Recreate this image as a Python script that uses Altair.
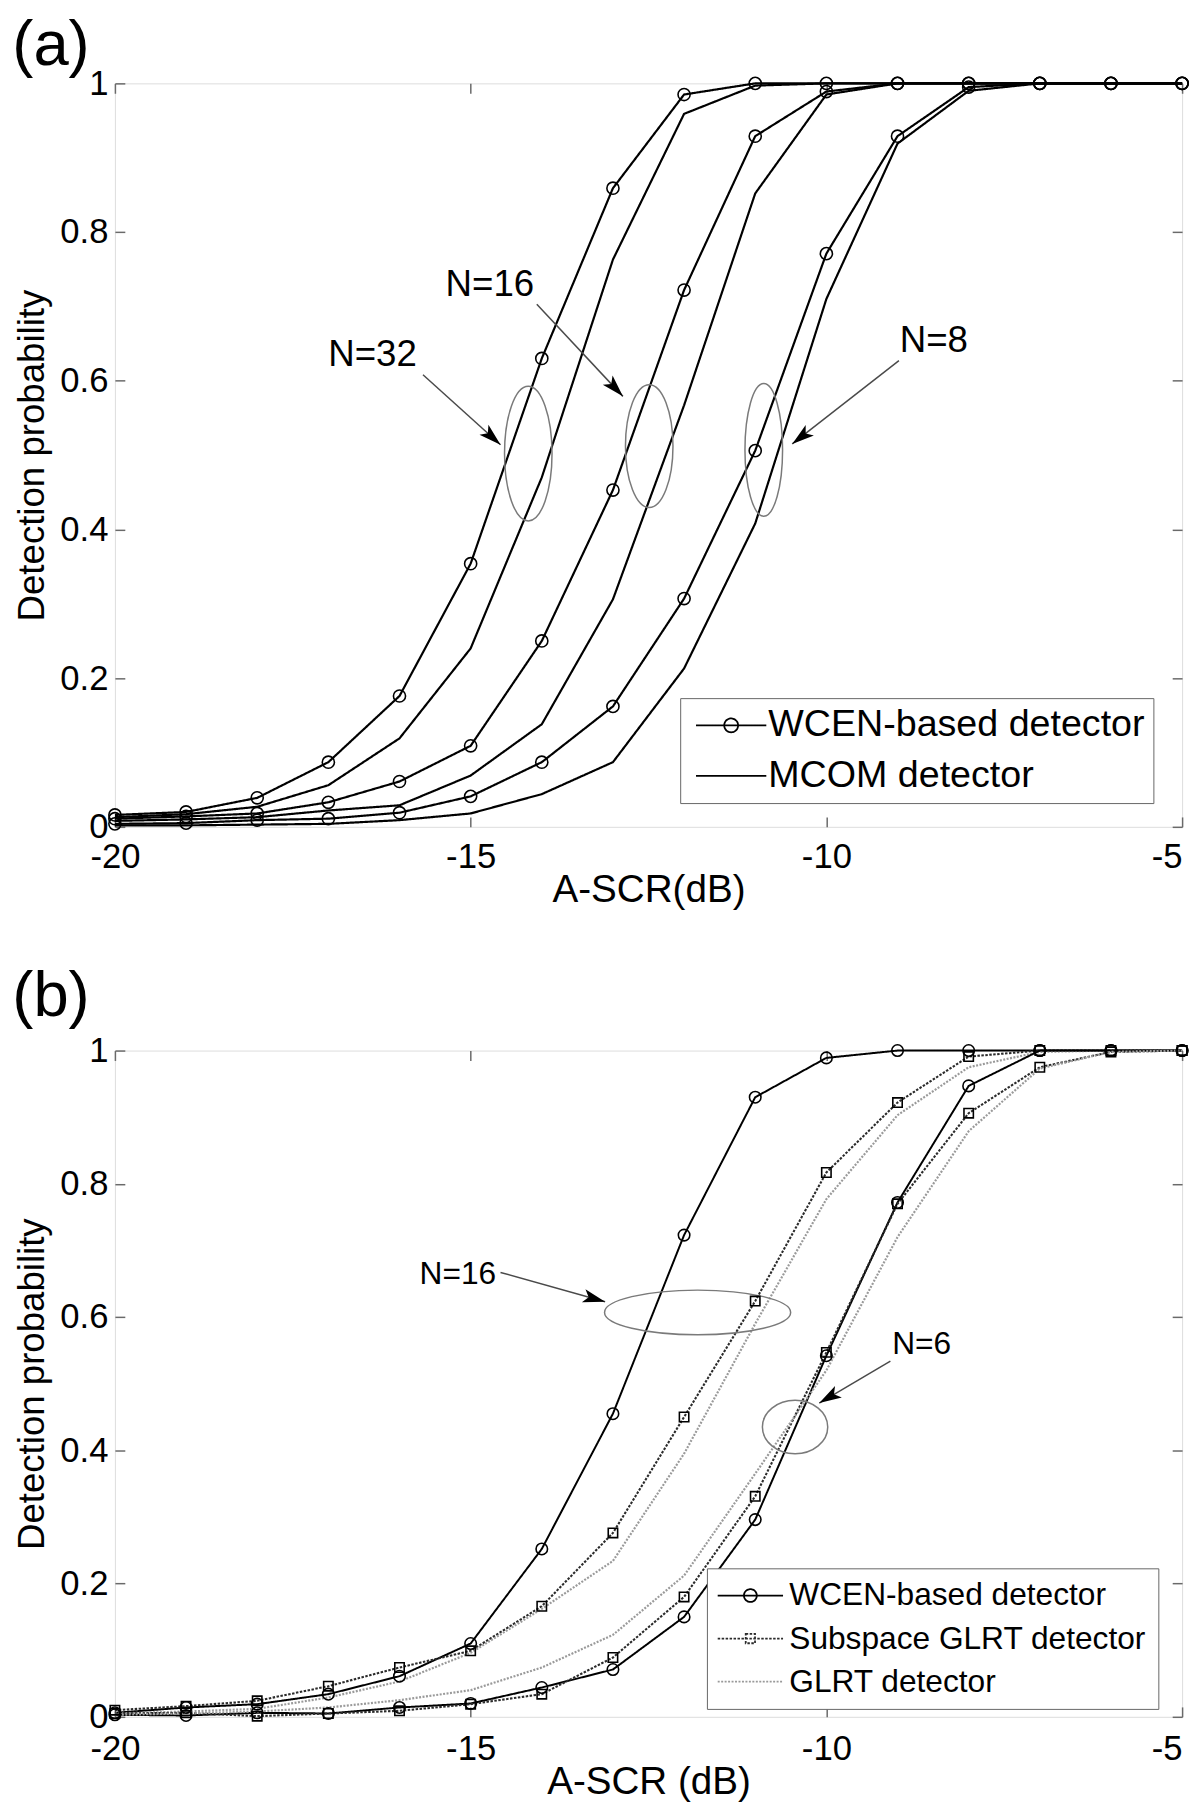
import math
import altair as alt
import pandas as pd

# ---------------- data ----------------
SCR = [-20, -19, -18, -17, -16, -15, -14, -13, -12, -11, -10, -9, -8, -7, -6, -5]

# panel (a)
A_WCEN_N32 = [0.016, 0.020, 0.039, 0.087, 0.176, 0.354, 0.630, 0.859, 0.985, 1.0, 1.0, 1.0, 1.0, 1.0, 1.0, 1.0]
A_MCOM_N32 = [0.013, 0.017, 0.027, 0.056, 0.119, 0.240, 0.470, 0.763, 0.959, 0.997, 1.0, 1.0, 1.0, 1.0, 1.0, 1.0]
A_WCEN_N16 = [0.011, 0.014, 0.018, 0.033, 0.061, 0.109, 0.250, 0.453, 0.722, 0.929, 0.989, 1.0, 1.0, 1.0, 1.0, 1.0]
A_MCOM_N16 = [0.008, 0.010, 0.013, 0.022, 0.029, 0.069, 0.138, 0.306, 0.567, 0.852, 0.985, 1.0, 1.0, 1.0, 1.0, 1.0]
A_WCEN_N8 = [0.004, 0.005, 0.009, 0.011, 0.019, 0.041, 0.087, 0.162, 0.307, 0.506, 0.771, 0.929, 0.995, 1.0, 1.0, 1.0]
A_MCOM_N8 = [0.002, 0.002, 0.003, 0.004, 0.009, 0.018, 0.044, 0.087, 0.213, 0.408, 0.710, 0.919, 0.990, 1.0, 1.0, 1.0]

# panel (b)
B_WCEN_N16 = [0.006, 0.014, 0.019, 0.034, 0.061, 0.110, 0.252, 0.455, 0.723, 0.930, 0.989, 1.0, 1.0, 1.0, 1.0, 1.0]
B_SUB_N16 = [0.010, 0.016, 0.024, 0.046, 0.074, 0.099, 0.166, 0.276, 0.450, 0.624, 0.817, 0.922, 0.991, 1.0, 1.0, 1.0]
B_GLRT_N16 = [0.005, 0.008, 0.012, 0.029, 0.053, 0.096, 0.162, 0.234, 0.395, 0.590, 0.777, 0.903, 0.975, 0.998, 1.0, 1.0]
B_WCEN_N6 = [0.003, 0.002, 0.006, 0.005, 0.014, 0.020, 0.044, 0.071, 0.150, 0.296, 0.542, 0.772, 0.947, 1.0, 1.0, 1.0]
B_SUB_N6 = [0.005, 0.006, 0.001, 0.005, 0.009, 0.019, 0.034, 0.089, 0.180, 0.331, 0.547, 0.770, 0.906, 0.975, 0.998, 1.0]
B_GLRT_N6 = [0.003, 0.005, 0.008, 0.014, 0.025, 0.040, 0.074, 0.123, 0.212, 0.365, 0.520, 0.720, 0.879, 0.973, 0.998, 1.0]

X_TICKS = [-20, -15, -10, -5]
Y_TICKS = [0, 0.2, 0.4, 0.6, 0.8, 1]

WCEN = "WCEN-based detector"
MCOM = "MCOM detector"
SUB = "Subspace GLRT detector"
GLRT = "GLRT detector"

# annotations, panel (a)
NOTE_A_TEXT = ["N=32", "N=16", "N=8"]
NOTE_A_X = [-16.38, -14.73, -8.49]
NOTE_A_Y = [0.634, 0.728, 0.654]
ARROW_A_X0 = [-15.67, -14.07, -8.98]
ARROW_A_Y0 = [0.608, 0.703, 0.627]
ARROW_A_X1 = [-14.58, -12.86, -10.48]
ARROW_A_Y1 = [0.514, 0.579, 0.515]
ELL_A_X = [-14.19, -12.49, -10.88]
ELL_A_Y = [0.502, 0.512, 0.507]
ELL_A_RX = [24, 24, 19]
ELL_A_RY = [68, 62, 67]

# annotations, panel (b)
NOTE_B_TEXT = ["N=16", "N=6"]
NOTE_B_X = [-15.18, -8.66]
NOTE_B_Y = [0.665, 0.560]
ARROW_B_X0 = [-14.58, -9.10]
ARROW_B_Y0 = [0.667, 0.534]
ARROW_B_X1 = [-13.11, -10.10]
ARROW_B_Y1 = [0.623, 0.471]
ELL_B_X = [-11.81, -10.44]
ELL_B_Y = [0.607, 0.435]
ELL_B_RX = [94, 33]
ELL_B_RY = [22.5, 27]

# ---------------- style ----------------
FONT = "Liberation Sans"
FRAME = "#6a6a6a"
ELL_COLOR = "#7a7a7a"
ARROW_COLOR = "#4a4a4a"
W = 1078
H_A = 751
H_B = 673
TICK = 10
X_DOMAIN = [-20, -5]
Y_DOMAIN = [0, 1]
ARROW_PATH = "M0,0L-0.45,1.5L0,1.15L0.45,1.5Z"
TICK_FONT = 35
XTITLE_FONT = 39
YTITLE_FONT = 37


def ellipse_shape(rx, ry):
    m = max(rx, ry)
    a, b = rx / m, ry / m
    path = f"M{a:.4f},0A{a:.4f},{b:.4f} 0 1,1 {-a:.4f},0A{a:.4f},{b:.4f} 0 1,1 {a:.4f},0Z"
    return path, (2 * m) ** 2


def arrow_angle(x0, y0, x1, y1, h):
    dx = (x1 - x0) * W / (X_DOMAIN[1] - X_DOMAIN[0])
    dy = -(y1 - y0) * h / (Y_DOMAIN[1] - Y_DOMAIN[0])
    return math.degrees(math.atan2(dx, -dy)) % 360


def legend_paths(unit, line_px, circle_px, square_px):
    h = line_px / 2 / unit
    r = circle_px / unit
    s = square_px / unit
    line = f"M{-h:.3f},0L{h:.3f},0"
    circ = line + f"M{r:.3f},0A{r:.3f},{r:.3f} 0 1,1 {-r:.3f},0A{r:.3f},{r:.3f} 0 1,1 {r:.3f},0"
    sq = line + f"M{-s:.3f},{-s:.3f}L{s:.3f},{-s:.3f}L{s:.3f},{s:.3f}L{-s:.3f},{s:.3f}Z"
    return {"circle": circ, "square": sq, "line": line}


def make_panel(label, height, series, line_styles, marker_styles, legend_names,
               legend_kinds, legend_cfg, notes, arrows, ellipses, note_font, xtitle,
               title_offset, xlabel_pad, xtitle_y):
    xs = alt.Scale(domain=X_DOMAIN, nice=False, zero=False)
    ys = alt.Scale(domain=Y_DOMAIN, nice=False, zero=False)
    nx = alt.X("x:Q", scale=xs, axis=None)
    ny = alt.Y("y:Q", scale=ys, axis=None)

    rows = []
    for i, (det, vals) in enumerate(series):
        for xv, yv in zip(SCR, vals):
            rows.append({"x": xv, "y": yv, "det": det, "sid": f"s{i}"})
    df = pd.DataFrame(rows)
    dets = list(line_styles.keys())

    ax_bottom = alt.Axis(
        orient="bottom", offset=-TICK, tickSize=TICK, ticks=True, domain=False, grid=False,
        values=X_TICKS, labelExpr="datum.value + ''", labelFlush=False,
        labelAlign={"condition": {"test": "datum.value == -5", "value": "right"}, "value": "center"},
        tickColor=FRAME, tickWidth=1.5, labelFont=FONT, labelFontSize=TICK_FONT, labelColor="black",
        labelPadding=xlabel_pad, title=xtitle, titleFont=FONT, titleFontSize=XTITLE_FONT,
        titleFontWeight="normal", titleColor="black", titleBaseline="top", titleY=xtitle_y)
    ax_left = alt.Axis(
        orient="left", offset=-TICK, tickSize=TICK, ticks=True, domain=False, grid=False,
        values=Y_TICKS, labelExpr="datum.value + ''", labelFlush=False,
        tickColor=FRAME, tickWidth=1.5, labelFont=FONT, labelFontSize=TICK_FONT, labelColor="black",
        labelPadding=7, title="Detection probability", titleFont=FONT, titleFontSize=YTITLE_FONT,
        titleFontWeight="normal", titleColor="black", titlePadding=8)
    ax_top = alt.Axis(orient="top", offset=-TICK, tickSize=TICK, ticks=True, labels=False,
                      domain=False, grid=False, values=X_TICKS, tickColor=FRAME,
                      tickWidth=1.5, title=None)
    ax_right = alt.Axis(orient="right", offset=-TICK, tickSize=TICK, ticks=True, labels=False,
                        domain=False, grid=False, values=Y_TICKS, tickColor=FRAME,
                        tickWidth=1.5, title=None)

    lines = alt.Chart(df).mark_line().encode(
        x=alt.X("x:Q", scale=xs, axis=ax_bottom),
        y=alt.Y("y:Q", scale=ys, axis=ax_left),
        detail="sid:N",
        stroke=alt.Stroke("det:N", scale=alt.Scale(domain=dets, range=[line_styles[d][0] for d in dets]), legend=None),
        strokeDash=alt.StrokeDash("det:N", scale=alt.Scale(domain=dets, range=[line_styles[d][1] for d in dets]), legend=None),
        strokeWidth=alt.StrokeWidth("det:N", scale=alt.Scale(domain=dets, range=[line_styles[d][2] for d in dets]), legend=None),
    )

    pdf = df[df["det"].isin(list(marker_styles.keys()))].copy()
    pdf["mshape"] = pdf["det"].map(lambda d: marker_styles[d][0])
    pdf["msize"] = pdf["det"].map(lambda d: marker_styles[d][1])
    pts = alt.Chart(pdf).mark_point(filled=False, opacity=1, strokeWidth=1.6, color="black").encode(
        x=alt.X("x:Q", scale=xs, axis=ax_top),
        y=alt.Y("y:Q", scale=ys, axis=ax_right),
        shape=alt.Shape("mshape:N", scale=None),
        size=alt.Size("msize:Q", scale=None),
    )

    # ellipses
    ex, ey, erx, ery = ellipses
    epaths, esizes = zip(*[ellipse_shape(a, b) for a, b in zip(erx, ery)])
    edf = pd.DataFrame({"x": ex, "y": ey, "path": epaths, "size": esizes})
    ell = alt.Chart(edf).mark_point(filled=False, opacity=1, strokeWidth=1.5, color=ELL_COLOR).encode(
        x=nx, y=ny, shape=alt.Shape("path:N", scale=None), size=alt.Size("size:Q", scale=None))

    # arrows
    ax0, ay0, ax1, ay1 = arrows
    adf = pd.DataFrame({"x": ax0, "y": ay0, "x2": ax1, "y2": ay1})
    arrow_lines = alt.Chart(adf).mark_rule(color=ARROW_COLOR, strokeWidth=1.5).encode(
        x=nx, y=ny, x2="x2:Q", y2="y2:Q")
    hdf = pd.DataFrame({"x": ax1, "y": ay1,
                        "ang": [arrow_angle(a, b, c, d, height) for a, b, c, d in zip(ax0, ay0, ax1, ay1)]})
    heads = alt.Chart(hdf).mark_point(shape=ARROW_PATH, filled=True, opacity=1, color="black", size=900).encode(
        x=nx, y=ny, angle=alt.Angle("ang:Q", scale=None))

    # texts
    nt, ntx, nty = notes
    tdf = pd.DataFrame({"x": ntx, "y": nty, "t": nt})
    texts = alt.Chart(tdf).mark_text(font=FONT, fontSize=note_font, color="black", align="center",
                                     baseline="middle").encode(x=nx, y=ny, text="t:N")

    # legend carrier (no visible marks; rows have no position)
    c = legend_cfg
    paths = legend_paths(c["unit"], c["line"], c["circle"], c["square"])
    ldf = pd.DataFrame({"name": legend_names, "x": [None] * len(legend_names), "y": [None] * len(legend_names)})
    leg = alt.Legend(title=None, orient="none", legendX=c["xy"][0], legendY=c["xy"][1],
                     labelFont=FONT, labelFontSize=c["font"], labelColor="black", labelLimit=0,
                     symbolSize=(2 * c["unit"]) ** 2, symbolStrokeWidth=1.8, padding=c["pad"],
                     rowPadding=c["rowpad"], symbolOffset=c["symoff"], labelOffset=c["laboff"],
                     strokeColor="#666666", fillColor="white", cornerRadius=0, symbolOpacity=1)
    legend_layer = alt.Chart(ldf).mark_point(filled=False, opacity=1).encode(
        x=nx, y=ny,
        shape=alt.Shape("name:N", scale=alt.Scale(domain=legend_names, range=[paths[k] for k in legend_kinds]), legend=leg),
        stroke=alt.Stroke("name:N", scale=alt.Scale(domain=legend_names, range=[line_styles[d][0] for d in legend_names]), legend=leg),
        strokeDash=alt.StrokeDash("name:N", scale=alt.Scale(domain=legend_names, range=[line_styles[d][1] for d in legend_names]), legend=leg),
    )

    return alt.layer(lines, ell, arrow_lines, heads, texts, pts, legend_layer).resolve_axis(
        x="independent", y="independent"
    ).resolve_scale(
        shape="independent", size="independent", stroke="independent",
        strokeDash="independent", strokeWidth="independent"
    ).properties(
        width=W, height=height,
        title=alt.TitleParams(text=label, anchor="start", frame="bounds", font=FONT, fontSize=64,
                              fontWeight="normal", color="black", offset=title_offset, dx=-2),
    )


LINE_A = {WCEN: ("black", [1, 0], 2.2), MCOM: ("black", [1, 0], 2.2)}
MARK_A = {WCEN: ("circle", 150)}
LINE_B = {WCEN: ("black", [1, 0], 2.0), SUB: ("#2b2b2b", [2.5, 1.5], 2.2), GLRT: ("#9a9a9a", [2, 1.5], 1.6)}
MARK_B = {WCEN: ("circle", 135), SUB: ("square", 90)}

LEG_A = {"xy": (571, 621), "font": 38, "unit": 17, "line": 71, "circle": 7, "square": 4.7,
         "pad": 8.5, "rowpad": 13, "symoff": 24, "laboff": 18.5}
LEG_B = {"xy": (598, 523), "font": 32, "unit": 15, "line": 66, "circle": 6.5, "square": 4.7,
         "pad": 11.5, "rowpad": 11.5, "symoff": 16.4, "laboff": 23.3}

panel_a = make_panel(
    "(a)", H_A,
    [(WCEN, A_WCEN_N32), (MCOM, A_MCOM_N32), (WCEN, A_WCEN_N16), (MCOM, A_MCOM_N16),
     (WCEN, A_WCEN_N8), (MCOM, A_MCOM_N8)],
    LINE_A, MARK_A, [WCEN, MCOM], ["circle", "line"], LEG_A,
    (NOTE_A_TEXT, NOTE_A_X, NOTE_A_Y), (ARROW_A_X0, ARROW_A_Y0, ARROW_A_X1, ARROW_A_Y1),
    (ELL_A_X, ELL_A_Y, ELL_A_RX, ELL_A_RY), 37, "A-SCR(dB)", -11, 13, 54)

panel_b = make_panel(
    "(b)", H_B,
    [(WCEN, B_WCEN_N16), (SUB, B_SUB_N16), (GLRT, B_GLRT_N16), (WCEN, B_WCEN_N6),
     (SUB, B_SUB_N6), (GLRT, B_GLRT_N6)],
    LINE_B, MARK_B, [WCEN, SUB, GLRT], ["circle", "square", "line"], LEG_B,
    (NOTE_B_TEXT, NOTE_B_X, NOTE_B_Y), (ARROW_B_X0, ARROW_B_Y0, ARROW_B_X1, ARROW_B_Y1),
    (ELL_B_X, ELL_B_Y, ELL_B_RX, ELL_B_RY), 32, "A-SCR (dB)", 5, 15, 56)

chart = alt.vconcat(panel_a, panel_b, spacing=55).properties(
    padding={"left": 3, "right": 0, "top": -4, "bottom": 0}
).configure_view(stroke=FRAME, strokeWidth=1.5).configure(font=FONT)

chart.save("out.html", embed_options={"renderer": "svg", "actions": False})
